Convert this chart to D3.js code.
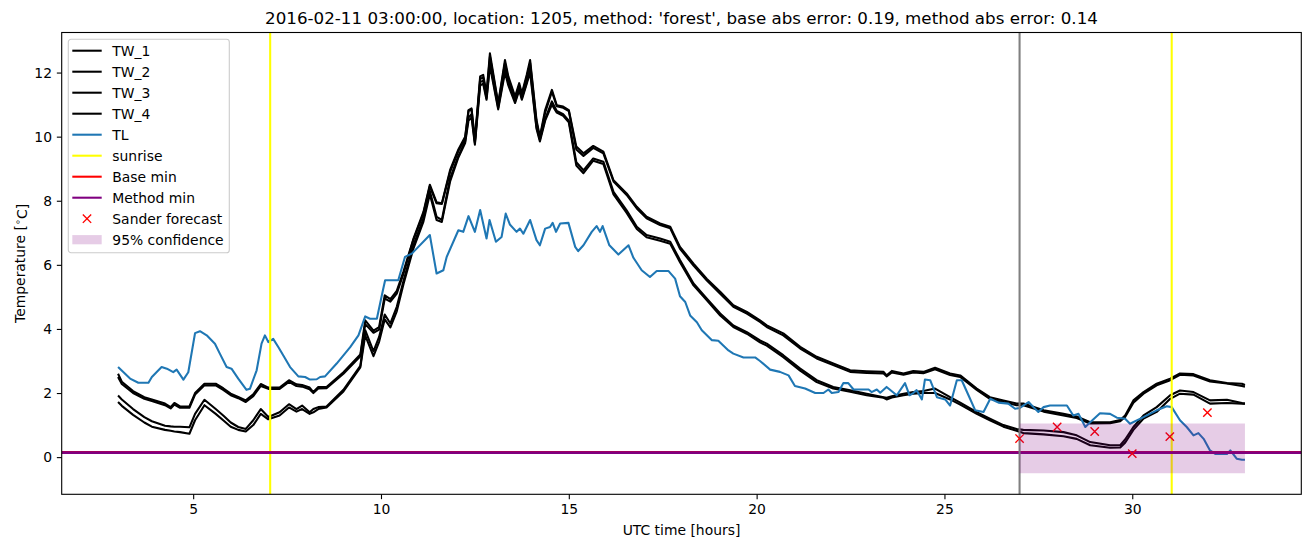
<!DOCTYPE html>
<html>
<head>
<meta charset="utf-8">
<script src="https://cdn.jsdelivr.net/npm/d3@7"></script>
<style>
body { margin: 0; background: #ffffff; }
svg { font-family: "DejaVu Sans", sans-serif; display: block; }
</style>
</head>
<body>
<div id="chart-area"></div>
<script>

// ** Data **
var titleText = "2016-02-11 03:00:00, location: 1205, method: 'forest', base abs error: 0.19, method abs error: 0.14";

// water temperatures (TW_1..TW_4), sampled where the curves bend
var twHours = [3.0, 3.1, 3.4, 3.7, 3.9, 4.25, 4.4, 4.5, 4.65, 4.9,
	5.05, 5.3, 5.6, 5.8, 6.0, 6.2, 6.4, 6.6, 6.8, 7.0,
	7.3, 7.55, 7.75, 7.9, 8.1, 8.2, 8.33, 8.55, 9.0, 9.45,
	9.58, 9.8, 9.95, 10.1, 10.25, 10.42, 10.6, 10.86, 11.13, 11.3,
	11.48, 11.62, 11.84, 12.06, 12.24, 12.33, 12.41, 12.5, 12.64, 12.72,
	12.81, 12.9, 13.12, 13.3, 13.39, 13.57, 13.68, 13.75, 13.88, 13.97,
	14.14, 14.23, 14.37, 14.55, 14.68, 14.85, 15.0, 15.2, 15.39, 15.65,
	15.92, 16.19, 16.54, 16.81, 17.07, 17.43, 17.7, 17.96, 18.32, 18.67,
	19.03, 19.38, 19.74, 20.09, 20.27, 20.71, 21.16, 21.6, 22.04, 22.49,
	22.93, 23.38, 23.46, 23.6, 23.91, 24.17, 24.44, 24.75, 25.15, 25.42,
	25.86, 26.21, 26.57, 26.92, 27.1, 27.64, 28.17, 28.52, 28.88, 29.41,
	29.68, 29.81, 30.03, 30.3, 30.65, 31.01, 31.27, 31.63, 32.07, 32.52,
	32.92, 33.0];

var tw1 = [2.6, 2.35, 2.06, 1.87, 1.8, 1.67, 1.56, 1.69, 1.58, 1.58,
	2.0, 2.29, 2.29, 2.15, 1.98, 1.88, 1.77, 1.96, 2.28, 2.17,
	2.17, 2.4, 2.27, 2.25, 2.17, 2.03, 2.19, 2.19, 2.65, 3.2,
	4.27, 3.95, 4.06, 5.05, 4.93, 5.19, 5.8, 6.8, 7.65, 8.5,
	7.95, 7.92, 8.96, 9.6, 10.0, 10.83, 10.88, 9.9, 11.88, 11.93,
	11.35, 12.6, 11.04, 12.39, 11.88, 11.25, 11.67, 11.35, 11.93, 12.39,
	10.52, 10.0, 10.83, 11.46, 10.98, 10.94, 10.83, 9.69, 9.48, 9.71,
	9.53, 8.64, 8.23, 7.81, 7.5, 7.29, 7.19, 6.56, 6.04, 5.57,
	5.16, 4.74, 4.53, 4.27, 4.11, 3.86, 3.44, 3.13, 2.92, 2.71,
	2.68, 2.66, 2.55, 2.69, 2.61, 2.69, 2.66, 2.79, 2.61, 2.55,
	2.14, 1.87, 1.77, 1.67, 1.67, 1.46, 1.35, 1.27, 1.09, 1.09,
	1.16, 1.3, 1.77, 2.03, 2.29, 2.45, 2.61, 2.59, 2.4, 2.31,
	2.29, 2.25];

var tw2 = [2.5, 2.28, 2.0, 1.82, 1.75, 1.62, 1.52, 1.64, 1.54, 1.54,
	1.95, 2.24, 2.24, 2.1, 1.93, 1.84, 1.72, 1.9, 2.22, 2.13,
	2.13, 2.35, 2.22, 2.2, 2.12, 2.0, 2.14, 2.15, 2.6, 3.15,
	4.15, 3.88, 3.98, 4.95, 4.85, 5.1, 5.73, 6.77, 7.6, 8.45,
	7.92, 7.9, 8.9, 9.55, 9.95, 10.8, 10.85, 9.85, 11.8, 11.85,
	11.3, 12.5, 11.0, 12.3, 11.8, 11.2, 11.6, 11.3, 11.85, 12.3,
	10.45, 9.95, 10.75, 11.4, 10.95, 10.9, 10.8, 9.6, 9.4, 9.65,
	9.48, 8.6, 8.18, 7.76, 7.45, 7.24, 7.14, 6.5, 5.98, 5.52,
	5.1, 4.69, 4.48, 4.22, 4.06, 3.8, 3.39, 3.08, 2.87, 2.66,
	2.63, 2.61, 2.52, 2.64, 2.57, 2.64, 2.62, 2.74, 2.56, 2.5,
	2.1, 1.82, 1.72, 1.62, 1.62, 1.42, 1.3, 1.22, 1.05, 1.06,
	1.12, 1.25, 1.7, 1.98, 2.24, 2.4, 2.57, 2.55, 2.36, 2.3,
	2.22, 2.2];

var tw3 = [1.92, 1.8, 1.5, 1.25, 1.12, 0.98, 0.96, 0.95, 0.95, 0.93,
	1.35, 1.79, 1.5, 1.3, 1.08, 0.94, 0.88, 1.15, 1.5, 1.25,
	1.4, 1.65, 1.5, 1.61, 1.4, 1.5, 1.56, 1.58, 2.1, 2.85,
	3.96, 3.3, 3.75, 4.45, 4.17, 4.69, 5.5, 6.6, 7.45, 8.3,
	7.5, 7.4, 8.7, 9.4, 9.85, 10.6, 10.7, 9.8, 11.7, 11.75,
	11.2, 12.3, 10.9, 12.1, 11.7, 11.1, 11.5, 11.2, 11.7, 12.1,
	10.3, 9.9, 10.55, 11.1, 10.8, 10.7, 10.5, 9.2, 8.95, 9.32,
	9.22, 8.28, 7.7, 7.19, 6.93, 6.82, 6.72, 6.15, 5.42, 4.95,
	4.48, 4.11, 3.9, 3.64, 3.54, 3.18, 2.76, 2.4, 2.19, 2.09,
	1.98, 1.87, 1.85, 1.9, 1.98, 2.03, 2.06, 2.14, 1.87, 1.7,
	1.4, 1.2, 1.0, 0.88, 0.85, 0.83, 0.78, 0.68, 0.47, 0.37,
	0.37, 0.55, 0.94, 1.3, 1.56, 1.93, 2.08, 2.03, 1.77, 1.79,
	1.69, 1.68];

var tw4 = [1.72, 1.6, 1.32, 1.08, 0.95, 0.85, 0.82, 0.8, 0.78, 0.73,
	1.15, 1.62, 1.35, 1.15, 0.95, 0.85, 0.8, 1.0, 1.35, 1.18,
	1.3, 1.55, 1.42, 1.5, 1.35, 1.4, 1.5, 1.55, 2.05, 2.8,
	3.8, 3.15, 3.6, 4.3, 4.05, 4.55, 5.4, 6.5, 7.35, 8.2,
	7.4, 7.34, 8.6, 9.35, 9.8, 10.5, 10.6, 9.75, 11.6, 11.65,
	11.15, 12.2, 10.85, 12.0, 11.6, 11.05, 11.45, 11.15, 11.65, 12.0,
	10.25, 9.85, 10.5, 11.0, 10.75, 10.65, 10.45, 9.1, 8.86, 9.25,
	9.15, 8.2, 7.62, 7.12, 6.86, 6.75, 6.66, 6.08, 5.36, 4.9,
	4.42, 4.06, 3.85, 3.58, 3.48, 3.12, 2.7, 2.34, 2.14, 2.04,
	1.93, 1.85, 1.8, 1.86, 1.93, 1.98, 2.0, 2.0, 1.8, 1.64,
	1.35, 1.15, 0.95, 0.82, 0.75, 0.71, 0.65, 0.57, 0.37, 0.29,
	0.3, 0.45, 0.85, 1.2, 1.41, 1.82, 1.98, 1.95, 1.67, 1.69,
	1.67, 1.66];

// air temperature (TL)
var tlHours = [3.0, 3.32, 3.54, 3.81, 3.9, 4.16, 4.3, 4.47, 4.56, 4.74,
	4.87, 5.05, 5.18, 5.36, 5.58, 5.71, 5.89, 6.02, 6.2, 6.42,
	6.51, 6.69, 6.82, 6.91, 7.0, 7.13, 7.27, 7.4, 7.58, 7.8,
	7.98, 8.11, 8.29, 8.38, 8.51, 8.82, 9.18, 9.4, 9.58, 9.71,
	9.89, 10.05, 10.11, 10.46, 10.64, 10.82, 11.3, 11.48, 11.66, 11.75,
	12.06, 12.19, 12.33, 12.5, 12.64, 12.81, 12.89, 13.06, 13.21, 13.32,
	13.43, 13.61, 13.7, 13.79, 13.97, 14.14, 14.23, 14.37, 14.5, 14.57,
	14.66, 14.77, 14.99, 15.17, 15.25, 15.39, 15.61, 15.74, 15.83, 15.9,
	16.08, 16.32, 16.59, 16.72, 16.94, 17.16, 17.34, 17.65, 17.83, 17.96,
	18.1, 18.23, 18.41, 18.54, 18.81, 18.98, 19.25, 19.38, 19.65, 19.96,
	20.09, 20.36, 20.62, 20.85, 21.02, 21.29, 21.56, 21.78, 21.91, 22.0,
	22.18, 22.31, 22.44, 22.58, 22.98, 23.06, 23.2, 23.29, 23.46, 23.73,
	23.95, 24.07, 24.17, 24.26, 24.4, 24.48, 24.62, 24.8, 25.02, 25.15,
	25.33, 25.46, 25.64, 25.82, 26.04, 26.22, 26.44, 26.7, 26.88, 27.0,
	27.24, 27.37, 27.5, 27.64, 27.81, 28.26, 28.43, 28.57, 28.75, 28.88,
	29.14, 29.41, 29.59, 29.81, 29.94, 30.3, 30.65, 30.92, 31.05, 31.27,
	31.45, 31.63, 31.76, 31.9, 32.07, 32.21, 32.52, 32.61, 32.78, 32.92,
	33.0];

var tlTemp = [2.81, 2.45, 2.32, 2.32, 2.5, 2.81, 2.76, 2.65, 2.73, 2.42,
	2.65, 3.87, 3.93, 3.8, 3.54, 3.23, 2.81, 2.76, 2.45, 2.1,
	2.13, 2.71, 3.54, 3.8, 3.59, 3.69, 3.43, 3.17, 2.81, 2.52,
	2.5, 2.42, 2.43, 2.5, 2.52, 2.92, 3.43, 3.8, 4.39, 4.32,
	4.32, 5.2, 5.52, 5.52, 6.25, 6.35, 6.93, 5.73, 5.83, 6.25,
	7.08, 7.03, 7.52, 7.03, 7.71, 6.82, 7.4, 6.72, 6.87, 7.6,
	7.26, 7.03, 7.13, 6.97, 7.4, 6.77, 6.61, 7.13, 7.18, 7.31,
	7.03, 7.29, 7.31, 6.56, 6.43, 6.61, 7.03, 7.21, 7.03, 7.21,
	6.61, 6.32, 6.61, 6.22, 5.83, 5.62, 5.81, 5.81, 5.57, 5.02,
	4.84, 4.42, 4.21, 3.96, 3.65, 3.63, 3.33, 3.23, 3.11, 3.11,
	3.0, 2.73, 2.66, 2.55, 2.22, 2.14, 2.0, 2.0, 2.11, 2.0,
	2.03, 2.31, 2.31, 2.11, 2.11, 2.03, 2.11, 2.01, 2.19, 1.93,
	2.31, 1.93, 2.0, 2.09, 1.8, 2.42, 2.4, 1.87, 1.8, 1.61,
	2.4, 2.4, 1.93, 1.46, 1.41, 1.82, 1.7, 1.67, 1.51, 1.53,
	1.72, 1.56, 1.41, 1.56, 1.61, 1.61, 1.3, 1.35, 0.94, 1.09,
	1.37, 1.35, 1.23, 1.2, 1.04, 1.25, 1.46, 1.59, 1.56, 1.15,
	0.94, 0.68, 0.75, 0.57, 0.21, 0.1, 0.1, 0.21, -0.05, -0.08,
	-0.08];

var sunriseHours = [7.05, 31.05];
var forecastStartHour = 27;
var baseMin = 0.15;
var methodMin = 0.14;

// Sander forecast and its 95% band
var forecastHours = [27, 28, 29, 30, 31, 32];
var forecastTemp = [0.58, 0.94, 0.80, 0.11, 0.64, 1.39];
var confHours = [27, 33];
var confLow = [-0.5, -0.5];
var confHigh = [1.05, 1.05];

var xTicks = [5, 10, 15, 20, 25, 30];
var yTicks = [0, 2, 4, 6, 8, 10, 12];

// ** Dimensions **
var svgWidth = 1310;
var svgHeight = 547;
var margin = { left: 61.7, right: 8.7, top: 32.5, bottom: 52.7 };
var width = svgWidth - margin.left - margin.right;
var height = svgHeight - margin.top - margin.bottom;

var fontSize = 13.9;
var tickLen = 4.86;

var svg = d3.select("#chart-area")
	.append("svg")
	.attr("width", svgWidth)
	.attr("height", svgHeight);

var g = svg.append("g")
	.attr("transform", "translate(" + margin.left + ", " + margin.top + ")");

// Scales
var x = d3.scaleLinear()
	.domain([1.5, 34.5])
	.range([0, width]);
var y = d3.scaleLinear()
	.domain([-1.16, 13.25])
	.range([height, 0]);

g.append("clipPath")
	.attr("id", "plot-clip")
	.append("rect")
	.attr("width", width)
	.attr("height", height);

var plot = g.append("g")
	.attr("clip-path", "url(#plot-clip)");

function pairs(xs, ys){
	return xs.map(function(t, i){ return [t, ys[i]]; });
}

var line = d3.line()
	.x(function(d){ return x(d[0]); })
	.y(function(d){ return y(d[1]); });

// TW lines
[tw1, tw2, tw3, tw4].forEach(function(series){
	plot.append("path")
		.attr("d", line(pairs(twHours, series)))
		.attr("fill", "none")
		.attr("stroke", "#000000")
		.attr("stroke-width", 2.08)
		.attr("stroke-linejoin", "round");
});

// TL line
plot.append("path")
	.attr("d", line(pairs(tlHours, tlTemp)))
	.attr("fill", "none")
	.attr("stroke", "#1f77b4")
	.attr("stroke-width", 2.08)
	.attr("stroke-linejoin", "round");

// sunrise
sunriseHours.forEach(function(h){
	plot.append("line")
		.attr("x1", x(h)).attr("x2", x(h))
		.attr("y1", 0).attr("y2", height)
		.attr("stroke", "#ffff00")
		.attr("stroke-width", 2.08);
});

// minimum lines
plot.append("line")
	.attr("x1", 0).attr("x2", width)
	.attr("y1", y(baseMin)).attr("y2", y(baseMin))
	.attr("stroke", "#ff0000")
	.attr("stroke-width", 2.78);
plot.append("line")
	.attr("x1", 0).attr("x2", width)
	.attr("y1", y(methodMin)).attr("y2", y(methodMin))
	.attr("stroke", "#800080")
	.attr("stroke-width", 2.78);

// forecast start
plot.append("line")
	.attr("x1", x(forecastStartHour)).attr("x2", x(forecastStartHour))
	.attr("y1", 0).attr("y2", height)
	.attr("stroke", "#808080")
	.attr("stroke-width", 2.08);

// forecast markers
var markerHalf = 4.17;
function crossPath(cx, cy){
	return "M" + (cx - markerHalf) + "," + (cy - markerHalf) + "L" + (cx + markerHalf) + "," + (cy + markerHalf)
		+ "M" + (cx - markerHalf) + "," + (cy + markerHalf) + "L" + (cx + markerHalf) + "," + (cy - markerHalf);
}
plot.selectAll(".forecast")
	.data(pairs(forecastHours, forecastTemp))
	.enter()
	.append("path")
	.attr("class", "forecast")
	.attr("d", function(d){ return crossPath(x(d[0]), y(d[1])); })
	.attr("stroke", "#ff0000")
	.attr("stroke-width", 1.39)
	.attr("fill", "none");

// confidence band
var area = d3.area()
	.x(function(d){ return x(d[0]); })
	.y0(function(d){ return y(d[1]); })
	.y1(function(d){ return y(d[2]); });
plot.append("path")
	.attr("d", area(confHours.map(function(h, i){ return [h, confLow[i], confHigh[i]]; })))
	.attr("fill", "#800080")
	.attr("fill-opacity", 0.2);

// X Axis
var xAxisCall = d3.axisBottom(x)
	.tickValues(xTicks)
	.tickSize(tickLen)
	.tickPadding(4.86)
	.tickFormat(function(d){ return d; });
var xAxis = g.append("g")
	.attr("transform", "translate(0, " + height + ")")
	.call(xAxisCall);

// Y Axis
var yAxisCall = d3.axisLeft(y)
	.tickValues(yTicks)
	.tickSize(tickLen)
	.tickPadding(4.86)
	.tickFormat(function(d){ return d; });
var yAxis = g.append("g")
	.call(yAxisCall);

[xAxis, yAxis].forEach(function(ax){
	ax.select(".domain").remove();
	ax.selectAll("line").attr("stroke", "#000").attr("stroke-width", 1.1);
	ax.selectAll("text")
		.attr("fill", "#000")
		.style("font-family", "DejaVu Sans")
		.style("font-size", fontSize + "px");
});

// Frame
g.append("rect")
	.attr("width", width)
	.attr("height", height)
	.attr("fill", "none")
	.attr("stroke", "#000")
	.attr("stroke-width", 1.1);

// Labels
g.append("text")
	.attr("x", width / 2)
	.attr("y", -8.6)
	.attr("text-anchor", "middle")
	.attr("font-size", "16.7px")
	.text(titleText);

g.append("text")
	.attr("x", width / 2)
	.attr("y", height + 41)
	.attr("text-anchor", "middle")
	.attr("font-size", fontSize + "px")
	.text("UTC time [hours]");

var yLabel = g.append("text")
	.attr("transform", "translate(" + (25 - margin.left) + ", " + (height / 2) + ") rotate(-90)")
	.attr("text-anchor", "middle")
	.attr("font-size", fontSize + "px");
yLabel.append("tspan").text("Temperature [");
yLabel.append("tspan")
	.attr("dy", "-0.4em")
	.attr("font-size", "9.7px")
	.text("\u2218");
yLabel.append("tspan")
	.attr("dy", "0.4em")
	.text("C]");

// ** Legend **
var legendItems = [
	{ label: "TW_1", kind: "line", color: "#000000" },
	{ label: "TW_2", kind: "line", color: "#000000" },
	{ label: "TW_3", kind: "line", color: "#000000" },
	{ label: "TW_4", kind: "line", color: "#000000" },
	{ label: "TL", kind: "line", color: "#1f77b4" },
	{ label: "sunrise", kind: "line", color: "#ffff00" },
	{ label: "Base min", kind: "line", color: "#ff0000" },
	{ label: "Method min", kind: "line", color: "#800080" },
	{ label: "Sander forecast", kind: "marker", color: "#ff0000" },
	{ label: "95% confidence", kind: "patch", color: "#800080" }
];
var legendRowHeight = 21;

var legend = svg.append("g")
	.attr("transform", "translate(68.3, 39.3)");

legend.append("rect")
	.attr("width", 161)
	.attr("height", 213.4)
	.attr("rx", 2.8)
	.attr("fill", "#ffffff")
	.attr("fill-opacity", 0.8)
	.attr("stroke", "#cccccc")
	.attr("stroke-width", 1.1);

legendItems.forEach(function(item, i){
	var cy = 11.4 + i * legendRowHeight;
	var row = legend.append("g");

	if (item.kind == "line"){
		row.append("line")
			.attr("x1", 4).attr("x2", 33.4)
			.attr("y1", cy).attr("y2", cy)
			.attr("stroke", item.color)
			.attr("stroke-width", 2.08);
	} else if (item.kind == "marker"){
		row.append("path")
			.attr("d", crossPath(18.7, cy))
			.attr("stroke", item.color)
			.attr("stroke-width", 1.39)
			.attr("fill", "none");
	} else {
		row.append("rect")
			.attr("x", 4).attr("y", cy - 4.6)
			.attr("width", 29.4).attr("height", 9.2)
			.attr("fill", item.color)
			.attr("fill-opacity", 0.2);
	}

	row.append("text")
		.attr("x", 44)
		.attr("y", cy)
		.attr("dy", "0.36em")
		.attr("font-size", fontSize + "px")
		.text(item.label);
});

</script>
</body>
</html>
